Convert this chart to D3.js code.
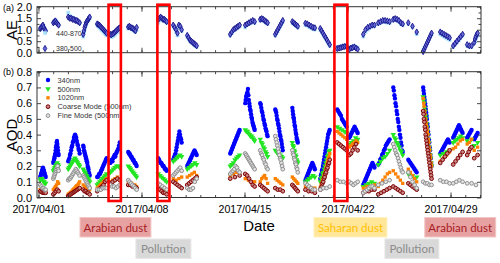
<!DOCTYPE html>
<html><head><meta charset="utf-8">
<script src="https://cdn.jsdelivr.net/npm/d3@7"></script>
<style>body{margin:0;background:#fff}svg{display:block;font-family:"Liberation Sans",Arial,sans-serif}</style>
</head><body><svg id="c" width="500" height="263"></svg>
<script>
// observation windows (day of April 2017, fractional)
const windows = [[1.12,1.49],[2.01,2.37],[3.02,3.80],[4.04,4.48],[4.99,5.63],[5.88,6.52],[7.10,7.67],[9.14,9.71],[10.16,10.73],[11.11,11.75],
[14.03,14.67],[15.05,15.69],[16.07,16.57],[17.09,17.60],[18.25,18.62],[19.14,19.78],[20.15,20.79],[21.30,21.94],[22.12,22.69],[23.07,23.83],
[24.09,24.86],[25.11,25.75],[26.13,26.70],[27.14,27.71],[28.30,28.94],[29.18,29.82],[30.13,30.43],[30.61,30.84]];

const aod340 = [[0.13,0.14,0.15,0.16,0.17,0.18,0.19,0.18,0.17,0.16,0.15,0.14,0.13],
[0.22,0.23,0.24,0.25,0.26,0.27,0.28,0.3,0.32,0.33,0.35,0.36,0.34,0.32,0.3,0.28,0.27],
[0.23,0.24,0.25,0.27,0.28,0.3,0.32,0.33,0.35,0.36,0.38,0.39,0.40,0.39,0.38,0.36,0.34,0.33,0.31,0.3,0.28],
[0.33,0.32,0.3,0.29,0.28,0.27,0.26,0.25,0.24,0.23,0.22,0.2,0.19,0.18,0.16,0.15,0.14],
[0.13,0.13,0.14,0.15,0.15,0.16,0.17,0.18,0.19,0.2,0.21,0.22,0.23,0.24,0.25],
[0.22,0.23,0.24,0.23,0.25,0.26,0.27,0.26,0.28,0.29,0.3,0.31,0.33,0.35],
[0.29,0.28,0.28,0.27,0.26,0.26,0.25,0.24,0.24,0.23,0.22,0.22,0.21,0.2],
[0.25,0.24,0.23,0.22,0.22,0.21,0.2,0.2,0.19,0.18,0.18,0.17],
[0.24,0.25,0.26,0.27,0.28,0.3,0.32,0.34,0.36,0.38,0.4,0.42,0.4,0.38,0.37,0.35],
[0.2,0.21,0.22,0.23,0.24,0.25,0.26,0.27,0.28,0.29,0.3,0.29,0.28,0.27],
[0.28,0.29,0.3,0.31,0.32,0.33,0.34,0.35,0.36,0.37,0.38,0.39,0.4,0.41,0.42,0.43],
[0.6,0.62,0.64,0.65,0.66,0.67,0.69,0.65,0.62,0.6,0.58,0.56,0.55,0.53,0.51,0.5,0.48,0.47,0.46,0.45,0.44,0.43],
[0.6,0.59,0.57,0.55,0.54,0.52,0.5,0.49,0.47,0.46,0.44,0.43,0.42,0.4,0.39],
[0.56,0.55,0.54,0.52,0.5,0.49,0.47,0.46,0.44,0.42,0.4,0.39,0.37,0.36,0.34,0.32,0.3],
[0.57,0.55,0.53,0.51,0.5,0.48,0.46,0.45,0.43,0.41,0.4,0.38,0.37,0.36,0.35],
[0.11,0.12,0.13,0.14,0.15,0.16,0.17,0.18,0.19,0.2,0.21,0.22,0.21,0.2,0.19,0.18],
[0.12,0.14,0.15,0.17,0.18,0.2,0.22,0.24,0.26,0.28,0.3,0.32,0.34,0.36,0.38,0.4,0.41,0.42,0.43],
[0.56,0.55,0.54,0.53,0.52,0.5,0.49,0.48,0.47,0.46,0.45],
[0.38,0.39,0.4,0.41,0.42,0.43,0.44,0.45,0.44,0.43,0.42,0.41],
[0.08,0.09,0.1,0.11,0.12,0.13,0.14,0.15,0.16,0.17,0.18,0.19,0.2,0.21,0.22,0.21,0.2,0.19],
[0.21,0.22,0.24,0.25,0.27,0.28,0.3,0.31,0.33,0.34,0.35,0.36,0.37],
[0.7,0.68,0.65,0.63,0.6,0.58,0.55,0.53,0.5,0.48,0.45,0.43,0.4,0.38,0.35,0.33,0.3,0.29],
[0.24,0.23,0.22,0.21,0.2,0.19,0.18,0.17,0.16],
[0.7,0.68,0.66,0.64,0.62,0.6,0.58,0.56,0.54,0.52,0.5,0.47,0.45,0.42,0.4,0.37,0.35,0.32,0.3,0.27,0.25,0.22,0.2],
[0.28,0.29,0.3,0.31,0.32,0.33,0.34,0.35,0.36,0.37,0.36,0.35],
[0.38,0.39,0.4,0.41,0.42,0.43,0.44,0.45,0.46,0.45,0.44,0.43,0.42,0.41],
[0.38,0.39,0.4,0.41,0.42,0.43],[0.37,0.38,0.39,0.4,0.41]];

const aod500 = [[0.11,0.12,0.12,0.11,0.10,0.10,0.09,0.09],[0.17,0.18,0.19,0.2,0.21,0.22,0.21,0.2],
[0.18,0.19,0.2,0.21,0.22,0.23,0.24,0.25,0.24,0.23,0.22,0.21,0.2],
[0.18,0.17,0.16,0.15,0.14,0.13,0.12,0.11,0.1],[0.08,0.09,0.1,0.11,0.12,0.13,0.14,0.15],[0.16,0.17,0.18,0.19,0.2,0.2,0.19],
[0.2,0.19,0.18,0.17,0.16,0.15,0.14,0.13],[0.15,0.14,0.13,0.12,0.11,0.1],[0.23,0.24,0.25,0.26,0.27,0.26],
[0.18,0.19,0.2,0.21,0.22,0.21],[0.2,0.21,0.22,0.24,0.25,0.26,0.27],[0.43,0.42,0.42,0.41,0.4,0.39,0.39,0.38,0.37,0.36],
[0.37,0.35,0.34,0.32,0.31,0.29,0.28,0.26],[0.3,0.29,0.28,0.28,0.27,0.26,0.25],[0.35,0.33,0.32,0.3,0.29,0.27,0.26,0.24,0.23,0.22],
[0.1,0.11,0.12,0.13,0.14,0.13],[0.1,0.12,0.13,0.15,0.16,0.18,0.2,0.22,0.24,0.26,0.27,0.29,0.3],[0.45,0.44,0.43,0.42,0.41],
[0.34,0.35,0.36,0.38,0.37],[0.07,0.08,0.09,0.1,0.09],[0.21,0.23,0.25,0.26,0.28,0.3],
[0.4,0.38,0.37,0.35,0.34,0.32,0.3,0.29,0.27],[0.15,0.14,0.13],
[0.64,0.62,0.6,0.57,0.55,0.52,0.5,0.47,0.45,0.42,0.4,0.37,0.35,0.32,0.3,0.27,0.25,0.22,0.2],
[0.27,0.28,0.29,0.3],[0.35,0.36,0.37,0.38,0.39,0.38],[0.36,0.37],[0.33,0.35]];

const aod1020 = [[0.05,0.05,0.04,0.04],[0.05,0.06,0.07,0.08,0.1,0.09],[0.02,0.025,0.03,0.035,0.04,0.05,0.055,0.06,0.07,0.075,0.08,0.09,0.1],
[0.08,0.07,0.06,0.06,0.05],[0.06,0.07,0.08,0.09,0.1,0.11,0.12],[0.1,0.11,0.12,0.13,0.12],
[0.1,0.09,0.09,0.08,0.08,0.07],[0.05,0.05,0.04,0.04],[0.12,0.11,0.12,0.13],
[0.13,0.14,0.15,0.16,0.14],[0.14,0.15,0.16,0.15],[0.12,0.11,0.1,0.1],
[0.1,0.12,0.13,0.14,0.12,0.09],[0.12,0.11,0.1,0.09,0.08],[0.13,0.12,0.11,0.1,0.09],
[0.07,0.07,0.06,0.06],[0.06,0.08,0.09,0.11,0.12,0.14,0.15,0.17,0.19,0.21,0.23,0.25,0.26,0.28],[0.42,0.41,0.4,0.39,0.38,0.37],
[0.32,0.33,0.34,0.35,0.36,0.35],[0.06,0.07,0.07,0.08],[0.07,0.09,0.11,0.13,0.15,0.16],
[0.17,0.15,0.13,0.11,0.09],[0.18,0.16,0.14,0.12,0.1],
[0.63,0.6,0.58,0.55,0.53,0.5,0.48,0.46,0.44,0.42,0.4,0.37,0.35,0.32,0.3,0.27,0.25,0.22,0.2],
[0.23,0.25,0.27,0.29],[0.31,0.32,0.34,0.36,0.37],[0.34,0.35,0.37],[0.3,0.32]];

const coarse500 = [[0.04,0.035,0.03,0.03,0.03],[0.02,0.03,0.04,0.05,0.04],[0.01,0.015,0.02,0.025,0.03,0.035,0.04,0.045,0.05,0.055,0.06],
[0.05,0.04,0.04,0.03,0.03,0.02],[0.04,0.05,0.06,0.07,0.08,0.1,0.11],[0.09,0.1,0.11,0.12,0.11],
[0.08,0.08,0.07,0.07,0.06],[0.06,0.05,0.04,0.03,0.03,0.02],[0.1,0.09,0.08,0.07,0.06],
[0.08,0.09,0.1,0.11,0.12,0.13],[0.12,0.13,0.14],[0.15,0.14,0.12,0.1,0.08,0.07],
[0.08,0.07,0.06,0.05,0.04],[0.06,0.05,0.05,0.04],[0.08,0.07,0.06,0.05,0.04],
[0.05,0.04,0.04,0.03],[0.05,0.06,0.07,0.09,0.1,0.12,0.13,0.15,0.16,0.18,0.19,0.21,0.22,0.24],[0.35,0.34,0.33,0.32,0.31,0.3],
[0.27,0.28,0.3,0.32,0.34,0.3],[0.03,0.04,0.04,0.05,0.05],[0.02,0.03,0.04,0.05,0.06],
[0.07,0.06,0.05,0.04,0.03],[0.09,0.08,0.07,0.06,0.05],
[0.55,0.53,0.5,0.48,0.45,0.43,0.4,0.38,0.36,0.34,0.32,0.3,0.28,0.26,0.24,0.22,0.2,0.18,0.16,0.14,0.12],
[0.22,0.24,0.26,0.28,0.3],[0.21,0.23,0.25,0.27,0.29],[0.27,0.29,0.31,0.32],[0.25,0.27]];

const fine500 = [[0.08,0.07,0.06,0.06,0.05,0.05],[0.12,0.13,0.14,0.15,0.16,0.17,0.18,0.19,0.2,0.18,0.17],
[0.11,0.12,0.12,0.13,0.14,0.15,0.16,0.17,0.18,0.17,0.16,0.15,0.14],
[0.14,0.13,0.12,0.11,0.1,0.09,0.08,0.07,0.06],[0.05,0.05,0.05,0.06,0.06,0.06],[0.08,0.07,0.07,0.06,0.07,0.08],
[0.11,0.1,0.09,0.08,0.07,0.06,0.05],[0.09,0.08,0.07,0.06,0.05],[0.14,0.15,0.16,0.17,0.18,0.19,0.17],
[0.06,0.05,0.05,0.06,0.1,0.12],[0.15,0.16,0.17,0.18,0.2,0.19,0.17,0.16],[0.28,0.27,0.26,0.25,0.24,0.23,0.22,0.21,0.2,0.19,0.18],
[0.3,0.28,0.27,0.25,0.24,0.22,0.21,0.19,0.18],[0.39,0.37,0.35,0.33,0.31,0.29,0.27,0.25,0.24,0.22,0.2,0.18],[0.3,0.28,0.27,0.25,0.24,0.22,0.21,0.19,0.18,0.16],
[0.09,0.08,0.07,0.06,0.05,0.05],[0.05,0.06,0.06,0.07],[0.11,0.1,0.1,0.09],
[0.1,0.09,0.08,0.09,0.1],[0.03,0.04,0.05,0.06,0.07,0.07,0.06],[0.08,0.09,0.1,0.11],
[0.34,0.32,0.3,0.28,0.27,0.25,0.23,0.21,0.19,0.17,0.16],[0.16,0.13,0.1,0.08,0.06],[0.1,0.09,0.09,0.08,0.08],
[0.11,0.1,0.1,0.09],[0.09,0.1,0.11,0.1],[0.09,0.09],[0.08]];

const ae440_870 = [[1.0,1.05,1.1,1.15,1.05,0.95],[1.3,1.35,1.4,1.3,1.2],[1.74,1.6,1.55,1.5,1.45,1.4,1.35,1.3],
[0.7,0.9,1.05,1.2,1.3,1.4,1.45,1.5],[1.2,1.15,1.1,1.05,1.0,0.95,0.9,0.85,0.8,0.75],[0.7,0.68,0.72,0.78,0.85,0.9,0.95],
[1.05,1.1,1.05,1.0,0.95,0.9,1.0],[1.3,1.4,1.5,1.45,1.4,1.35,1.3],[1.15,1.05,0.9,0.75,1.1,1.05,0.95],
[0.7,0.6,0.5,0.45,0.4,0.35,0.3,0.25],[0.75,0.85,0.95,1.0,1.05,1.1,1.15],[1.1,1.2,1.25,1.3,1.35,1.3],
[1.4,1.42,1.4,1.35,1.3,1.25],[0.75,0.85,0.95,1.05,1.15,1.25,1.35],[1.3,1.25,1.2,1.15,1.1],
[1.2,1.18,1.12,1.08,1.02,1.0],[1.0,0.9,0.8,0.7,0.6,0.5,0.4,0.3],[0.25,0.27,0.3,0.32,0.33],
[0.22,0.25,0.28,0.3,0.25,0.2],[0.7,0.9,1.0,1.1,1.15,1.15],[1.25,1.3,1.35,1.35,1.3,1.3],
[1.4,1.45,1.4,1.35,1.25,1.2],[1.25,1.1,0.8],[0.1,0.2,0.3,0.4,0.5,0.6,0.7,0.8],
[0.8,0.75,0.7,0.65,0.6,0.55],[0.25,0.35,0.45,0.55,0.65,0.75],[0.3,0.25,0.25],[0.4,0.5,0.6,0.7,0.75]];

const ae380_500 = [[1.05,1.1,1.15,1.2,1.1,1.0,0.95],[1.3,1.35,1.38,1.3,1.25,1.2],[1.55,1.5,1.5,1.45,1.45,1.4,1.4,1.35,1.3],
[0.8,0.95,1.1,1.2,1.3,1.35,1.4,1.45,1.5,1.55],[1.25,1.22,1.2,1.15,1.1,1.05,1.0,0.95,0.9,0.85],[0.8,0.78,0.82,0.85,0.9,0.95,1.0,1.05,1.08],
[1.12,1.15,1.1,1.08,1.05,1.0,0.95,1.1],[1.45,1.5,1.55,1.5,1.45,1.45,1.4,1.35],[1.2,1.1,1.0,0.85,1.2,1.15,1.0],
[0.75,0.65,0.55,0.5,0.45,0.4,0.35,0.3],[0.8,0.9,1.0,1.05,1.1,1.15,1.2],[1.2,1.25,1.3,1.35,1.4,1.35],
[1.45,1.48,1.45,1.4,1.35,1.3],[0.8,0.9,1.0,1.1,1.2,1.3,1.4],[1.35,1.3,1.25,1.2,1.15],
[1.28,1.25,1.2,1.15,1.1,1.08],[1.05,0.95,0.85,0.75,0.65,0.55,0.45,0.35],[0.18,0.2,0.22,0.25,0.27,0.28],
[0.15,0.2,0.22,0.25,0.2,0.15],[0.8,1.0,1.1,1.15,1.2,1.2],[1.3,1.35,1.4,1.4,1.38,1.35],
[1.45,1.48,1.45,1.4,1.3,1.25],[1.3,1.15,0.9],[0.05,0.15,0.25,0.35,0.45,0.55,0.65,0.75,0.85],
[0.9,0.85,0.8,0.75,0.7,0.65],[0.3,0.4,0.5,0.6,0.7,0.8],[0.35,0.3,0.3],[0.45,0.6,0.7,0.8,0.85]];

const xTickDays = [1,8,15,22,29];
const xTickLabels = ["2017/04/01","2017/04/08","2017/04/15","2017/04/22","2017/04/29"];
const aeTicks = [0,0.5,1,1.5,2];
const aodTicks = [0,0.1,0.2,0.3,0.4,0.5,0.6,0.7,0.8];
const aodLegend = ["340nm","500nm","1020nm","Coarse Mode (500nm)","Fine Mode (500nm)"];
const aeLegend = ["440-870","380-500"];
const highlightStart = [5.76, 9.08, 21.11];
const highlightEnd = [6.60, 9.90, 21.99];
const eventLabels = ["Arabian dust","Pollution","Saharan dust","Pollution","Arabian dust"];
const eventKind = ["arabian","pollution","saharan","pollution","arabian"];
const eventStart = [3.82, 7.62, 19.72, 24.54, 27.25];
const eventEnd = [8.64, 11.36, 24.68, 28.21, 32.07];
const eventRow = [0,1,0,1,0];

const svg = d3.select("#c");
const x = d3.scaleLinear().domain([0.9,31.07]).range([37,481]);
const yA = d3.scaleLinear().domain([0,2]).range([52.7,6.7]);
const yB = d3.scaleLinear().domain([0,0.8]).range([197.5,71.7]);

function pts(vals){
  const out=[];
  windows.forEach((w,i)=>{
    const v=vals[i]; if(!v) return; const n=v.length;
    v.forEach((val,j)=>{ const t = n===1 ? (w[0]+w[1])/2 : w[0]+(w[1]-w[0])*j/(n-1); out.push([t,val]); });
  });
  return out;
}

const styles = {
  s340:{sym:d3.symbolCircle,size:15,fill:"#0000ff",stroke:"none",sw:0,rot:0},
  s500:{sym:d3.symbolTriangle,size:13,fill:"#22e622",stroke:"none",sw:0,rot:180},
  s1020:{sym:d3.symbolSquare,size:11,fill:"#ff8000",stroke:"none",sw:0,rot:0},
  coarse:{sym:d3.symbolCircle,size:11,fill:"#c98a8a",stroke:"#800000",sw:1,rot:0},
  fine:{sym:d3.symbolCircle,size:11,fill:"#e4e4e4",stroke:"#8f8f8f",sw:1,rot:0},
  ae440:{sym:d3.symbolSquare,size:13,fill:"#a9e2fb",stroke:"none",sw:0,rot:0},
  ae380:{sym:d3.symbolDiamond,size:11,fill:"#6b6bd6",stroke:"#12128a",sw:0.9,rot:0}
};

function drawSeries(g, vals, st, y){
  const p = d3.symbol().type(st.sym).size(st.size)();
  g.append("g").selectAll("path").data(pts(vals)).join("path")
    .attr("d",p)
    .attr("transform",d=>`translate(${x(d[0])},${y(d[1])}) rotate(${st.rot})`)
    .attr("fill",st.fill).attr("stroke",st.stroke).attr("stroke-width",st.sw);
}
function legendMark(g, st, cx, cy){
  g.append("path").attr("d",d3.symbol().type(st.sym).size(st.size)())
   .attr("transform",`translate(${cx},${cy}) rotate(${st.rot})`)
   .attr("fill",st.fill).attr("stroke",st.stroke).attr("stroke-width",st.sw);
}

function frame(y, yMajor, yMinor, labelFmt){
  const [y0,y1] = y.range();
  const g = svg.append("g").attr("class","axes");
  const bot = g.append("g").attr("transform",`translate(0,${y0})`);
  bot.call(d3.axisBottom(x).tickValues(d3.range(1,32)).tickSize(-2.5).tickFormat(""));
  const major = d3.axisBottom(x).tickValues(xTickDays).tickSize(-5).tickPadding(8);
  major.tickFormat(labelFmt ? (d,i)=>xTickLabels[i] : "");
  bot.append("g").call(major);
  const top = g.append("g").attr("transform",`translate(0,${y1})`);
  top.call(d3.axisTop(x).tickValues(d3.range(1,32)).tickSize(-2.5).tickFormat(""));
  top.append("g").call(d3.axisTop(x).tickValues(xTickDays).tickSize(-5).tickFormat(""));
  const left = g.append("g").attr("transform",`translate(${x.range()[0]},0)`);
  left.call(d3.axisLeft(y).tickValues(yMajor).tickSize(-4).tickPadding(5).tickFormat(d3.format(".1f")));
  if(yMinor) left.append("g").call(d3.axisLeft(y).tickValues(yMinor).tickSize(-2.5).tickFormat(""));
  const right = g.append("g").attr("transform",`translate(${x.range()[1]},0)`);
  right.call(d3.axisRight(y).tickValues(yMajor).tickSize(-4).tickFormat(""));
  if(yMinor) right.append("g").call(d3.axisRight(y).tickValues(yMinor).tickSize(-2.5).tickFormat(""));
  g.selectAll(".domain").remove();
  g.selectAll("line").attr("stroke","#333").attr("stroke-width",0.9);
  g.selectAll("text").attr("fill","#000").attr("font-size",11).attr("font-family","'Liberation Sans',Arial,sans-serif");
  g.append("rect").attr("x",x.range()[0]).attr("y",y1).attr("width",x.range()[1]-x.range()[0]).attr("height",y0-y1)
   .attr("fill","none").attr("stroke","#333").attr("stroke-width",1);
  return g;
}

// panel (a)
const pa = svg.append("g");
drawSeries(pa, ae440_870, styles.ae440, yA);
drawSeries(pa, ae380_500, styles.ae380, yA);
frame(yA, aeTicks, [0.25,0.75,1.25,1.75], false);
legendMark(svg, styles.ae440, 45, 33);
legendMark(svg, styles.ae380, 45, 48.5);
svg.append("text").attr("x",56).attr("y",35.5).attr("font-size",7).attr("fill","#333").text(aeLegend[0]);
svg.append("text").attr("x",56).attr("y",51).attr("font-size",7).attr("fill","#333").text(aeLegend[1]);

// panel (b)
const pb = svg.append("g");
drawSeries(pb, aod340, styles.s340, yB);
drawSeries(pb, aod500, styles.s500, yB);
drawSeries(pb, aod1020, styles.s1020, yB);
drawSeries(pb, coarse500, styles.coarse, yB);
drawSeries(pb, fine500, styles.fine, yB);
const fb = frame(yB, aodTicks, null, true);
fb.selectAll("text").filter(function(){return this.textContent.startsWith("2017");}).attr("font-size",10.6);

const bStyles = [styles.s340, styles.s500, styles.s1020, styles.coarse, styles.fine];
aodLegend.forEach((t,i)=>{
  const cy = 80 + i*8.9;
  legendMark(svg, bStyles[i], 48, cy);
  svg.append("text").attr("x",57.5).attr("y",cy+2.6).attr("font-size",7.4).attr("fill","#333").text(t);
});

svg.append("text").attr("x",3).attr("y",11).attr("font-size",9).text("(a)");
svg.append("text").attr("x",3).attr("y",75).attr("font-size",9).text("(b)");
svg.append("text").attr("transform","translate(17,30) rotate(-90)").attr("text-anchor","middle").attr("font-size",15).text("AE");
svg.append("text").attr("transform","translate(17,135) rotate(-90)").attr("text-anchor","middle").attr("font-size",15).text("AOD");
svg.append("text").attr("x",259).attr("y",231).attr("text-anchor","middle").attr("font-size",15).text("Date");

const hTop = yA.range()[1]-2, hBot = yB.range()[0]+3.5;
highlightStart.forEach((s,i)=>{
  svg.append("rect").attr("x",x(s)).attr("y",hTop).attr("width",x(highlightEnd[i])-x(s)).attr("height",hBot-hTop)
    .attr("fill","none").attr("stroke","#ff0000").attr("stroke-width",2.6);
});

const kindStyle = {
  arabian:{fill:"#e8a1a1",stroke:"#f3c6c6",text:"#a51c24"},
  pollution:{fill:"#d9d9d9",stroke:"#e8e8e8",text:"#8c8c8c"},
  saharan:{fill:"#ffe699",stroke:"#fff1c4",text:"#ffc000"}
};
const rowY = [217.5, 239];
eventLabels.forEach((t,i)=>{
  const k = kindStyle[eventKind[i]];
  const x0 = x(eventStart[i]), x1 = x(eventEnd[i]);
  svg.append("rect").attr("x",x0).attr("y",rowY[eventRow[i]]).attr("width",x1-x0).attr("height",19.5)
    .attr("fill",k.fill).attr("stroke",k.stroke).attr("stroke-width",1);
  svg.append("text").attr("x",(x0+x1)/2).attr("y",rowY[eventRow[i]]+14).attr("text-anchor","middle")
    .attr("font-size",11.5).attr("fill",k.text).attr("font-family","Lato, 'Open Sans', sans-serif").text(t);
});
</script></body></html>
